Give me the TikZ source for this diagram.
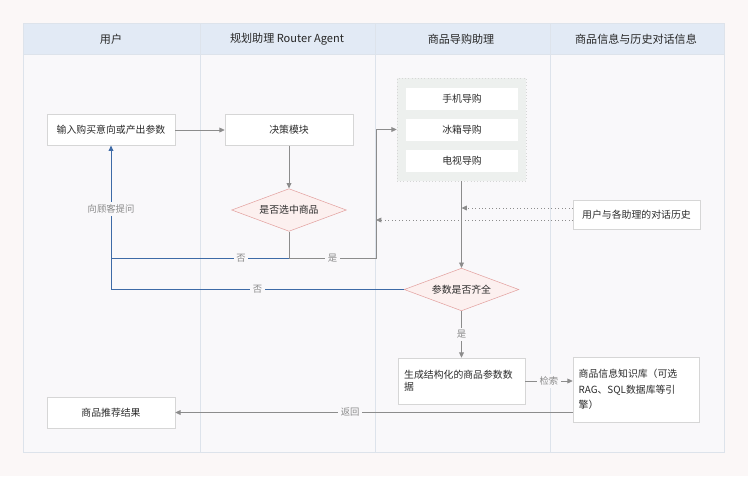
\documentclass[tikz,border=0pt]{standalone}
\usepackage{fontspec}
\setmainfont{Noto Sans CJK SC}
\usetikzlibrary{shapes.geometric,arrows.meta}
\definecolor{pagebg}{HTML}{FBF7F7}
\definecolor{lanebg}{HTML}{F9F8FA}
\definecolor{lanehead}{HTML}{E2EAF5}
\definecolor{laneline}{HTML}{DDE3EB}
\definecolor{boxline}{HTML}{D6D6D6}
\definecolor{txt}{HTML}{2B2B2B}
\definecolor{lbltxt}{HTML}{8A8A8A}
\definecolor{flowgray}{HTML}{8C8C8C}
\definecolor{noblue}{HTML}{3D6AA6}
\definecolor{askred}{HTML}{E3A2A0}
\definecolor{askfill}{HTML}{FCF0EF}
\definecolor{groupfill}{HTML}{EDF0EE}
\tikzset{
  box/.style={draw=boxline, fill=white, text=txt, minimum width=96pt, minimum height=23pt,
    inner sep=2pt, font=\fontsize{7.4}{9}\selectfont},
  ask/.style={shape=diamond, aspect=2.7, draw=askred, fill=askfill, text=txt, minimum width=86pt,
    minimum height=32pt, inner sep=0pt, font=\fontsize{7.4}{9}\selectfont},
  guidebox/.style={fill=white, text=txt, minimum width=84pt, minimum height=16.5pt,
    inner sep=0pt, font=\fontsize{7.4}{9}\selectfont},
  lanetitle/.style={text=black!85, font=\fontsize{8.3}{10}\selectfont},
  lbl/.style={fill=lanebg, text=lbltxt, inner sep=2pt, font=\fontsize{7}{8}\selectfont},
  flow/.style={draw=flowgray, line width=0.6pt, -{Triangle[length=4pt,width=3.6pt]}},
  noline/.style={draw=noblue, line width=0.7pt},
  dotflow/.style={draw=flowgray, dotted, line width=0.6pt, -{Triangle[length=4pt,width=3.6pt]}}
}
\begin{document}
\begin{tikzpicture}[x=0.75pt, y=-0.75pt]
\useasboundingbox (0,0) rectangle (748,476);
\fill[pagebg] (0,0) rectangle (748,476);
% lanes
\draw[laneline, fill=lanebg] (23,23) rectangle (724,452);
\draw[laneline, fill=lanehead] (23,23) rectangle (724,54);
\draw[laneline] (200,23) -- (200,452);
\draw[laneline] (375,23) -- (375,452);
\draw[laneline] (550,23) -- (550,452);
\node[lanetitle] (tuser) at (111,39) {用户};
\node[lanetitle] (trouter) at (287,39) {规划助理 Router Agent};
\node[lanetitle] (tguide) at (461,39) {商品导购助理};
\node[lanetitle] (tinfo) at (636,39) {商品信息与历史对话信息};
% boxes
\node[box] (input) at (111,130) {输入购买意向或产出参数};
\node[box] (decide) at (289,130) {决策模块};
\node[ask] (pick) at (289,210) {是否选中商品};
\node[draw=boxline, dotted, fill=groupfill, minimum width=96.75pt, minimum height=77pt] (guide) at (461.5,129.5) {};
\node[guidebox] (phone) at (462,99) {手机导购};
\node[guidebox] (fridge) at (462,129.5) {冰箱导购};
\node[guidebox] (tv) at (462,161) {电视导购};
\node[box, minimum width=95pt, minimum height=22pt] (hist) at (636.5,214.5) {用户与各助理的对话历史};
\node[ask] (check) at (461.5,289.5) {参数是否齐全};
\node[box, minimum width=95pt, minimum height=34.5pt, text width=86pt, align=left] (gen) at (461.5,381) {生成结构化的商品参数数\\据};
\node[box, minimum width=94.5pt, minimum height=48.75pt, text width=86pt, align=left,
  font=\fontsize{7.4}{11.7}\selectfont] (kb) at (636,389.5) {商品信息知识库（可选\\RAG、SQL数据库等引\\擎）};
\node[box] (result) at (111,412.5) {商品推荐结果};
% joints
\coordinate (j1) at (289,258);
\coordinate (j2) at (376,258);
\coordinate (h1) at (461.5,208);
\coordinate (h2) at (376,220);
% connectors
\draw[flow] (input) -- (decide);
\draw[flow] (decide) -- (pick);
\draw[draw=flowgray, line width=0.6pt] (pick.south) -- (j1);
\draw[noline] (check.west) -- node[lbl]{否} (input.south |- check.west) -- (input.south |- j1);
\draw[noline, -{Triangle[length=4pt,width=3.6pt]}] (j1) -- node[lbl, pos=0.27]{否} (input.south |- j1)
  -- node[lbl, pos=0.44]{向顾客提问} (input.south);
\draw[flow] (j1) -- node[lbl]{是} (j2) |- (guide.west);
\draw[flow] (guide) -- (check);
\draw[dotflow] (hist.west |- h1) -- (h1);
\draw[dotflow] (hist.west |- h2) -- (h2);
\draw[flow] (check) -- node[lbl]{是} (gen);
\draw[flow] (gen.east) -- node[lbl]{检索} (gen.east -| kb.west);
\draw[flow] (kb.west |- result.east) -- node[lbl, pos=0.56]{返回} (result.east);
\end{tikzpicture}
\end{document}
